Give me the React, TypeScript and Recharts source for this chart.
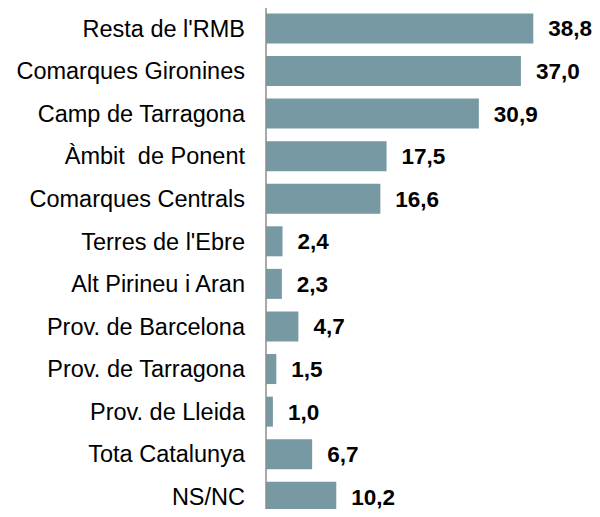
import React from "react";
import { BarChart, Bar, XAxis, YAxis, LabelList } from "recharts";

const categories: string[] = [
  "Resta de l'RMB",
  "Comarques Gironines",
  "Camp de Tarragona",
  "Àmbit\u00a0 de Ponent",
  "Comarques Centrals",
  "Terres de l'Ebre",
  "Alt Pirineu i Aran",
  "Prov. de Barcelona",
  "Prov. de Tarragona",
  "Prov. de Lleida",
  "Tota Catalunya",
  "NS/NC",
];

const values: number[] = [38.8, 37.0, 30.9, 17.5, 16.6, 2.4, 2.3, 4.7, 1.5, 1.0, 6.7, 10.2];

const data = categories.map((name, i) => ({ name, value: values[i] }));

const FONT = "'Liberation Sans', Arial, sans-serif";

export default function App() {
  return (
    <div style={{ width: 600, height: 517, overflow: "hidden", margin: -8, position: "relative" }}>
      <BarChart
        width={600}
        height={520}
        data={data}
        layout="vertical"
        margin={{ top: 7, right: 24, bottom: 2, left: 0 }}
        barCategoryGap="15%"
      >
        <XAxis type="number" domain={[0, 45]} hide />
        <YAxis
          type="category"
          dataKey="name"
          width={266}
          tickLine={false}
          tickSize={0}
          tickMargin={21}
          axisLine={{ stroke: "#8c8c8c", strokeWidth: 1.5 }}
          tick={{ fill: "#000", fontSize: 23.5, fontFamily: FONT }}
          interval={0}
        />
        <Bar dataKey="value" fill="#7699a3" isAnimationActive={false}>
          <LabelList
            dataKey="value"
            position="right"
            offset={15}
            formatter={(v: number) => v.toFixed(1).replace(".", ",")}
            style={{ fill: "#000", fontSize: 22.5, fontWeight: "bold", fontFamily: FONT }}
          />
        </Bar>
      </BarChart>
    </div>
  );
}
